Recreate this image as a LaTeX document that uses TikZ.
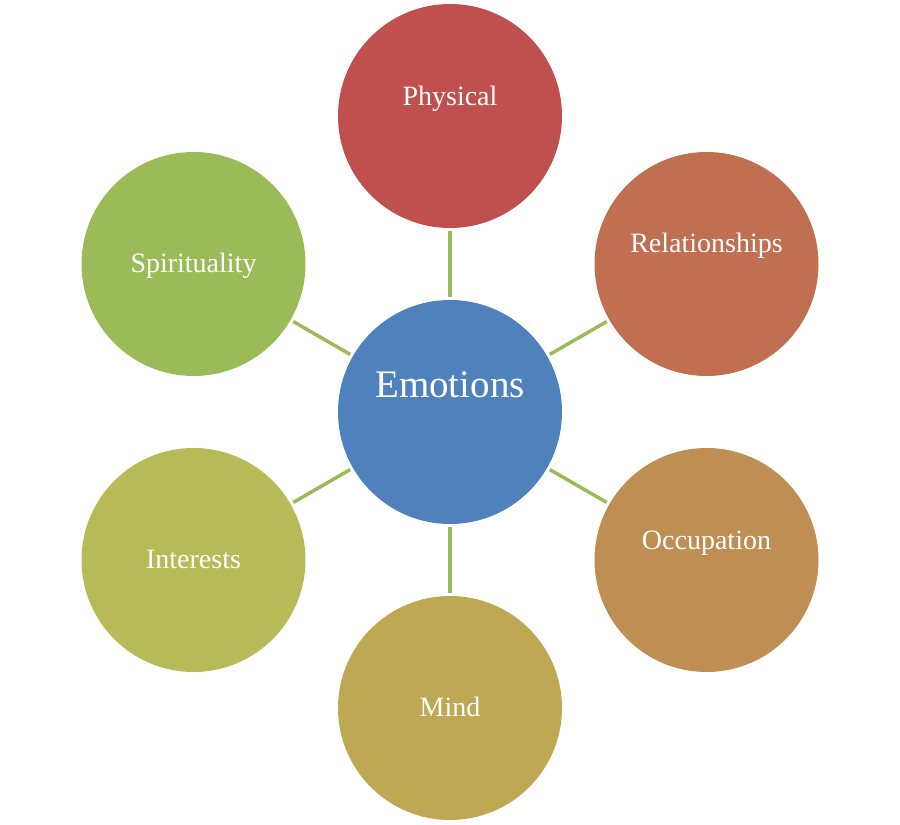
\documentclass[tikz,border=0pt]{standalone}
\usepackage{fontspec}
\setmainfont{Liberation Serif}
\definecolor{cEmo}{HTML}{4F81BD}
\definecolor{cPhy}{HTML}{C0504D}
\definecolor{cRel}{HTML}{C06F50}
\definecolor{cOcc}{HTML}{BF8E52}
\definecolor{cMind}{HTML}{BFA853}
\definecolor{cInt}{HTML}{B6BB58}
\definecolor{cSpi}{HTML}{9BBB59}
\definecolor{cLine}{HTML}{9BBB59}
\begin{document}
\begin{tikzpicture}[x=1pt,y=1pt,
  bubble/.style={circle,minimum size=224pt,inner sep=0pt,draw=none},
  lbl/.style={text=white,anchor=base,font=\fontsize{28}{32}\selectfont,inner sep=0pt},
  biglbl/.style={text=white,anchor=base,font=\fontsize{39}{44}\selectfont,inner sep=0pt},
  link/.style={draw=cLine,line width=3.5pt,shorten <=3pt,shorten >=3pt}]
\useasboundingbox (0,0) rectangle (900,825);
\node[bubble,fill=cEmo] (emo) at (450,413) {};
\node[bubble,fill=cPhy] (phy) at (450,709) {};
\node[bubble,fill=cRel] (rel) at (706.5,561) {};
\node[bubble,fill=cOcc] (occ) at (706.5,265) {};
\node[bubble,fill=cMind] (mind) at (450,117) {};
\node[bubble,fill=cInt] (int) at (193.5,265) {};
\node[bubble,fill=cSpi] (spi) at (193.5,561) {};
\draw[link] (emo) -- (phy);
\draw[link] (emo) -- (rel);
\draw[link] (emo) -- (occ);
\draw[link] (emo) -- (mind);
\draw[link] (emo) -- (int);
\draw[link] (emo) -- (spi);
\node[biglbl] (temo) at (450,427) {Emotions};
\node[lbl] (tphy) at (450,719) {Physical};
\node[lbl] (trel) at (706.5,572) {Relationships};
\node[lbl] (tocc) at (706.5,275) {Occupation};
\node[lbl] (tmind) at (450,108) {Mind};
\node[lbl] (tint) at (193.5,256) {Interests};
\node[lbl] (tspi) at (193.5,552) {Spirituality};
\end{tikzpicture}
\end{document}
